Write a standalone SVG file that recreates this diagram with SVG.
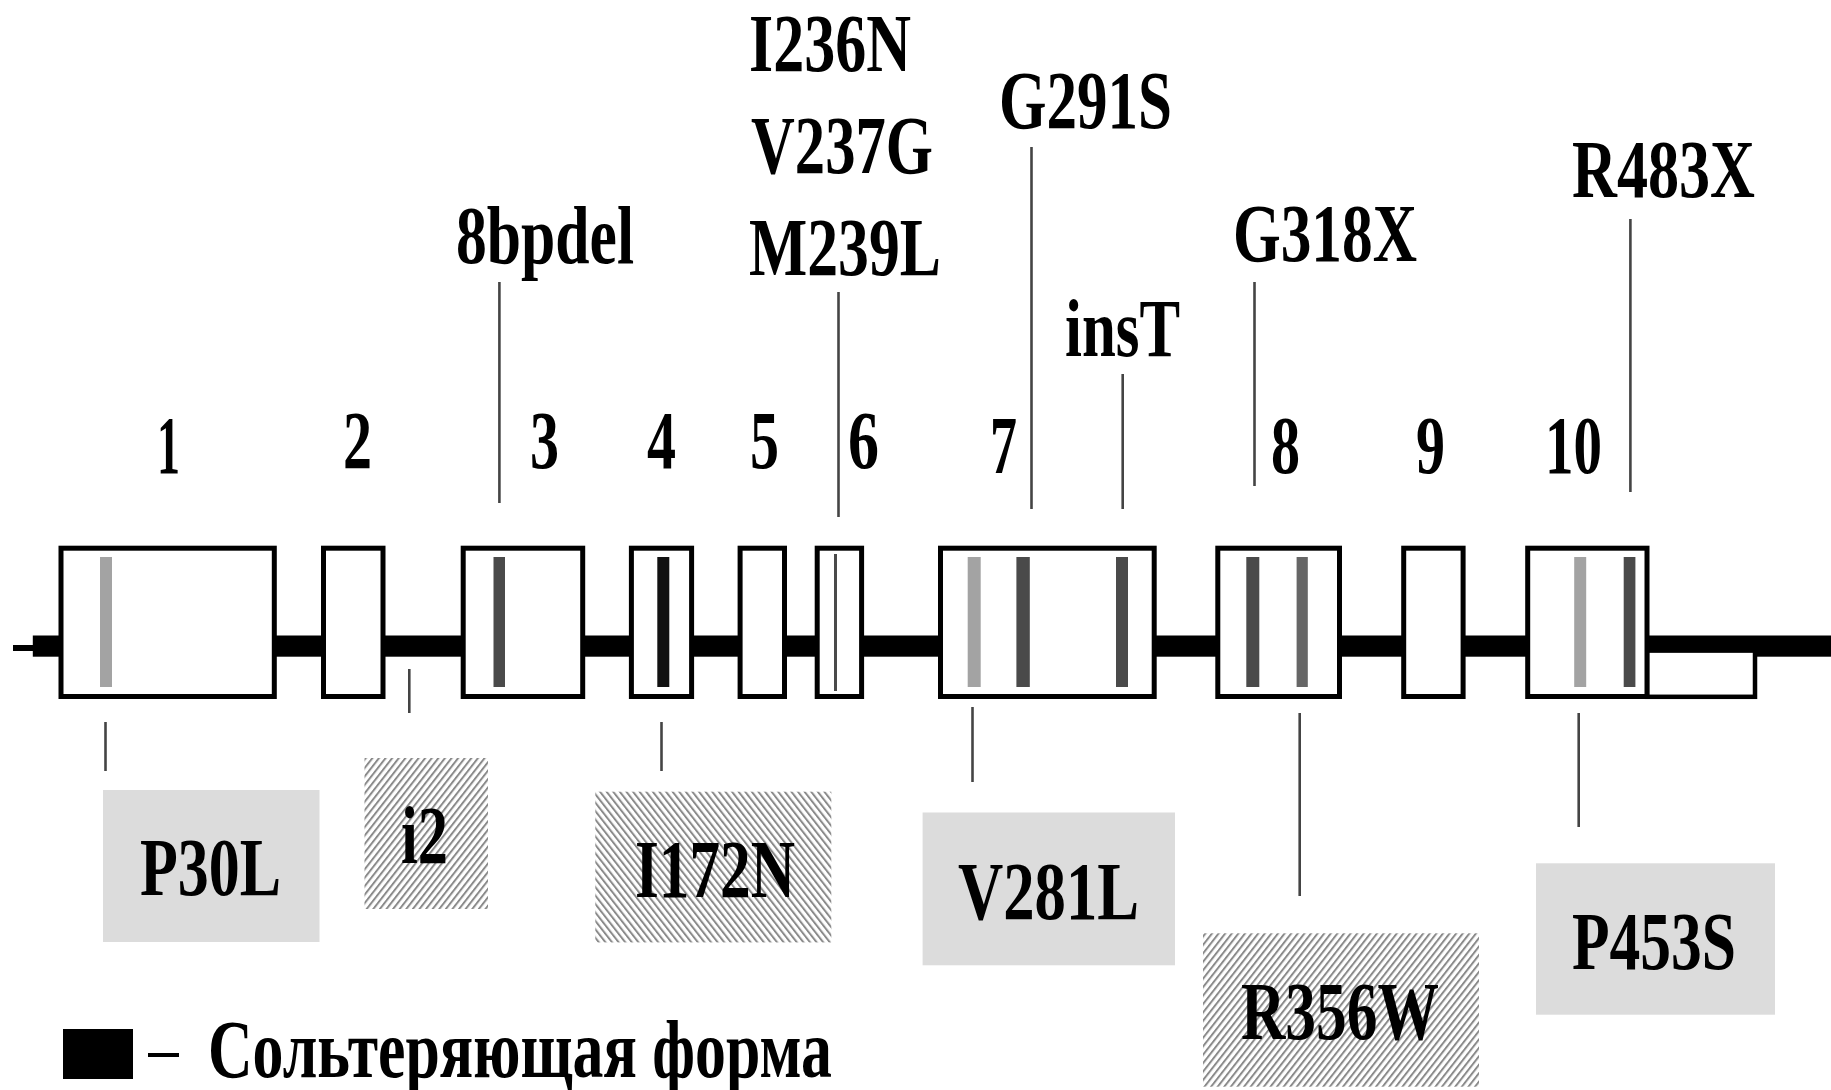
<svg xmlns="http://www.w3.org/2000/svg" width="1831" height="1090" viewBox="0 0 1831 1090">
<defs>
<pattern id="hatchR" patternUnits="userSpaceOnUse" width="5.2" height="10" patternTransform="rotate(38)">
<rect x="0" y="0" width="2" height="10" fill="#8a8a8a"/>
</pattern>
<pattern id="hatchL" patternUnits="userSpaceOnUse" width="5.2" height="10" patternTransform="rotate(-38)">
<rect x="0" y="0" width="2" height="10" fill="#8a8a8a"/>
</pattern>
</defs>
<style>
text{font-family:"Liberation Serif","Times New Roman",serif;font-weight:bold;font-size:83px;fill:#000}
.exon{fill:#fff;stroke:#000;stroke-width:5}
.utr{fill:#fff;stroke:#000;stroke-width:4.5}
.lt{fill:#a3a3a3}
.dk{fill:#4a4a4a}
.bk{fill:#111}
.md{fill:#666}
.gbox{fill:#dcdcdc}
.conn line{stroke:#444;stroke-width:2.6}
</style>
<rect x="0" y="0" width="1831" height="1090" fill="#fff"/>

<g id="backbone">
<rect x="13" y="645" width="21" height="6" fill="#000"/>
<rect x="32.8" y="635.5" width="1798.2" height="21.2" fill="#000"/>
</g>

<g id="utr3">
<rect class="utr" x="1647" y="650.6" width="108" height="46.2"/>
</g>

<g id="exon1">
<rect class="exon" x="61" y="548.2" width="213.3" height="148.3"/>
<rect class="lt" x="100" y="557" width="12" height="130"/>
</g>
<g id="exon2">
<rect class="exon" x="323.5" y="548.2" width="59.5" height="148.3"/>
</g>
<g id="exon3">
<rect class="exon" x="463.2" y="548.2" width="119.5" height="148.3"/>
<rect class="dk" x="493.5" y="557" width="11.5" height="130"/>
</g>
<g id="exon4">
<rect class="exon" x="631.4" y="548.2" width="60.2" height="148.3"/>
<rect class="bk" x="657.3" y="557" width="12" height="130"/>
</g>
<g id="exon5">
<rect class="exon" x="740.1" y="548.2" width="44.4" height="148.3"/>
</g>
<g id="exon6">
<rect class="exon" x="817.2" y="548.2" width="44.4" height="148.3"/>
<rect class="dk" x="834" y="554" width="3" height="137"/>
</g>
<g id="exon7">
<rect class="exon" x="940.5" y="548.2" width="213.7" height="148.3"/>
<rect class="lt" x="967.7" y="557" width="13" height="130"/>
<rect class="dk" x="1016.4" y="557" width="13.4" height="130"/>
<rect class="dk" x="1116" y="557" width="12" height="130"/>
</g>
<g id="exon8">
<rect class="exon" x="1217.8" y="548.2" width="121.7" height="148.3"/>
<rect class="dk" x="1246.3" y="557" width="13" height="130"/>
<rect class="md" x="1296.6" y="557" width="11.2" height="130"/>
</g>
<g id="exon9">
<rect class="exon" x="1403.7" y="548.2" width="59.4" height="148.3"/>
</g>
<g id="exon10">
<rect class="exon" x="1527.7" y="548.2" width="119.3" height="148.3"/>
<rect class="lt" x="1574.2" y="557" width="12" height="130"/>
<rect class="dk" x="1623.7" y="557" width="11.7" height="130"/>
</g>

<g id="exon-numbers">
<text x="157" y="473" textLength="23" lengthAdjust="spacingAndGlyphs">1</text>
<text x="343" y="468" textLength="29" lengthAdjust="spacingAndGlyphs">2</text>
<text x="530" y="468" textLength="29" lengthAdjust="spacingAndGlyphs">3</text>
<text x="647" y="468" textLength="29" lengthAdjust="spacingAndGlyphs">4</text>
<text x="750" y="468" textLength="29" lengthAdjust="spacingAndGlyphs">5</text>
<text x="848" y="468" textLength="31" lengthAdjust="spacingAndGlyphs">6</text>
<text x="990" y="473" textLength="27" lengthAdjust="spacingAndGlyphs">7</text>
<text x="1271" y="473" textLength="29" lengthAdjust="spacingAndGlyphs">8</text>
<text x="1416" y="473" textLength="29" lengthAdjust="spacingAndGlyphs">9</text>
<text x="1545" y="473" textLength="57" lengthAdjust="spacingAndGlyphs">10</text>
</g>

<g id="label-8bpdel"><text x="456" y="263" textLength="178" lengthAdjust="spacingAndGlyphs">8bpdel</text></g>
<g id="label-exon6">
<text x="749" y="71" textLength="162" lengthAdjust="spacingAndGlyphs">I236N</text>
<text x="751" y="173" textLength="182" lengthAdjust="spacingAndGlyphs">V237G</text>
<text x="749" y="275" textLength="192" lengthAdjust="spacingAndGlyphs">M239L</text>
</g>
<g id="label-G291S"><text x="999" y="128" textLength="173" lengthAdjust="spacingAndGlyphs">G291S</text></g>
<g id="label-insT"><text x="1065" y="356" textLength="115" lengthAdjust="spacingAndGlyphs">insT</text></g>
<g id="label-G318X"><text x="1233" y="261" textLength="184" lengthAdjust="spacingAndGlyphs">G318X</text></g>
<g id="label-R483X"><text x="1572" y="197" textLength="183" lengthAdjust="spacingAndGlyphs">R483X</text></g>

<g id="box-P30L">
<rect class="gbox" x="103" y="790" width="216.5" height="152"/>
<text x="140" y="895" textLength="141" lengthAdjust="spacingAndGlyphs">P30L</text>
</g>
<g id="box-i2">
<rect x="364.5" y="758" width="123.5" height="151" fill="url(#hatchR)"/>
<text x="401" y="863" textLength="47" lengthAdjust="spacingAndGlyphs">i2</text>
</g>
<g id="box-I172N">
<rect x="595.3" y="791.7" width="236" height="150.7" fill="url(#hatchL)"/>
<text x="635" y="897" textLength="160" lengthAdjust="spacingAndGlyphs">I172N</text>
</g>
<g id="box-V281L">
<rect class="gbox" x="922.6" y="812.5" width="252.4" height="152.8"/>
<text x="958" y="919" textLength="181" lengthAdjust="spacingAndGlyphs">V281L</text>
</g>
<g id="box-R356W">
<rect x="1203" y="933.3" width="276" height="153.4" fill="url(#hatchR)"/>
<text x="1241" y="1039" textLength="198" lengthAdjust="spacingAndGlyphs">R356W</text>
</g>
<g id="box-P453S">
<rect class="gbox" x="1536" y="863.3" width="239" height="151.4"/>
<text x="1572" y="969" textLength="164" lengthAdjust="spacingAndGlyphs">P453S</text>
</g>

<g id="legend">
<rect x="63" y="1029" width="70" height="50" fill="#000"/>
<rect x="148" y="1053" width="31" height="4" fill="#000"/>
<text x="208" y="1077" textLength="624" lengthAdjust="spacingAndGlyphs">Сольтеряющая форма</text>
</g>

<g id="connectors" class="conn">
<line x1="499.4" y1="282" x2="499.4" y2="503"/>
<line x1="838.5" y1="292" x2="838.5" y2="517"/>
<line x1="1031.5" y1="147" x2="1031.5" y2="509"/>
<line x1="1122.7" y1="374" x2="1122.7" y2="509"/>
<line x1="1254.5" y1="282" x2="1254.5" y2="486"/>
<line x1="1630.4" y1="219" x2="1630.4" y2="492"/>
<line x1="105.5" y1="722" x2="105.5" y2="771"/>
<line x1="409.3" y1="669" x2="409.3" y2="713"/>
<line x1="661.5" y1="722" x2="661.5" y2="771"/>
<line x1="972.5" y1="707" x2="972.5" y2="782"/>
<line x1="1299.7" y1="713" x2="1299.7" y2="896"/>
<line x1="1578.7" y1="713" x2="1578.7" y2="827"/>
</g>
</svg>
